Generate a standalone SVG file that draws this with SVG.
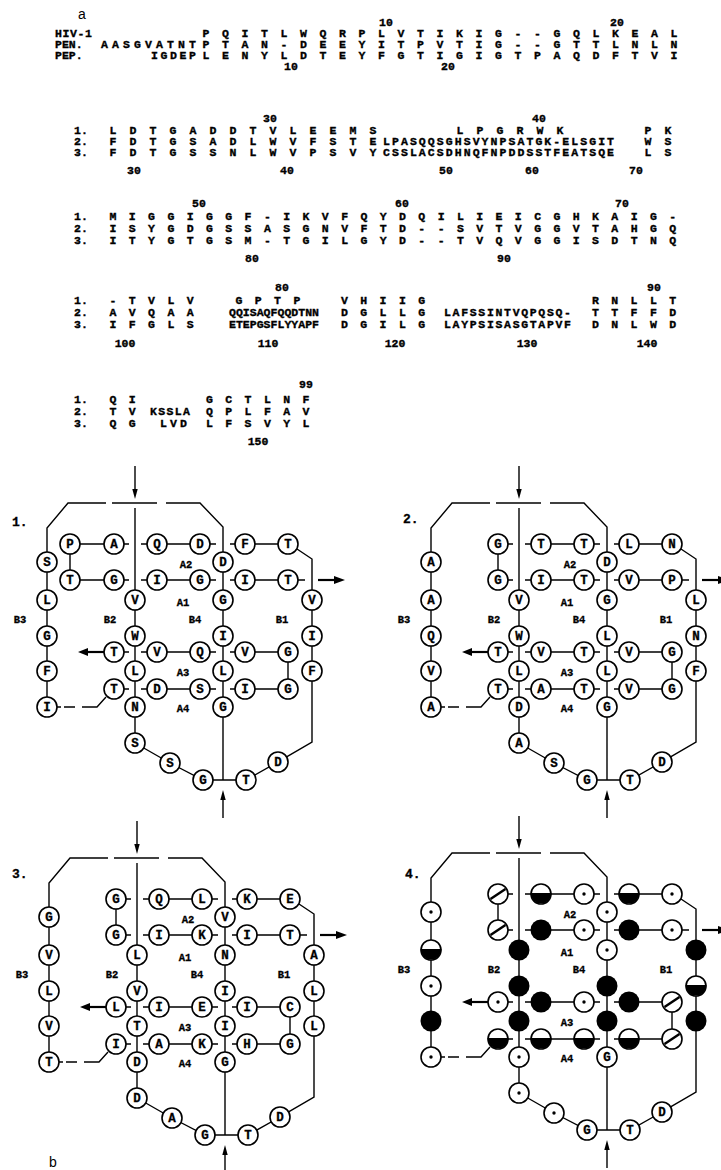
<svg xmlns="http://www.w3.org/2000/svg" xmlns:xlink="http://www.w3.org/1999/xlink" width="721" height="1170" viewBox="0 0 721 1170">
<style>
.t{font-family:"Liberation Mono","DejaVu Sans Mono",monospace;font-weight:bold;font-size:11.5px;fill:#000;stroke:#000;stroke-width:0.35}
.sp{letter-spacing:2.85px}
.sq{letter-spacing:2.75px}
.sw{letter-spacing:3.1px}
.n{text-anchor:middle}
.ln{fill:none;stroke:#000;stroke-width:1.4}
.ar{fill:none;stroke:#000;stroke-width:2.2}
.ah{fill:#000;stroke:none}
.nd circle{fill:#fff;stroke:#000;stroke-width:1.6}
.nd text{font-family:"Liberation Mono",monospace;font-weight:bold;font-size:12.5px;text-anchor:middle;fill:#000;stroke:#000;stroke-width:0.3}
.lb{font-family:"Liberation Mono",monospace;font-weight:bold;font-size:10.5px;text-anchor:middle;fill:#000;stroke:#000;stroke-width:0.3}
.pl{font-family:"Liberation Mono",monospace;font-weight:bold;font-size:13px;fill:#000;stroke:#000;stroke-width:0.3}
.ab{font-family:"Liberation Sans",Arial,sans-serif;font-size:14px;fill:#000}
</style>
<defs>
<g id="sk">
<polyline class="ln" points="47,552 47,528 68,503 106,503"/>
<line class="ln" x1="112" y1="503" x2="157" y2="503"/>
<polyline class="ln" points="166,503 200,503 223,527 223,552"/>
<line class="ln" x1="135" y1="466" x2="135" y2="492"/>
<polygon class="ah" points="132.3,489 137.7,489 135,499"/>
<line class="ln" x1="135" y1="508" x2="135" y2="590"/>
<path class="ln" d="M124,544h5M141,544h6M167,544H190M210,544h6M230,544h5M255,544H278M124,580h5M141,580h6M167,580H190M210,580h6M230,580h5M255,580H278M298,580h7M124,652h5M141,652h6M167,652H190M210,652h6M230,652h5M255,652H278M124,689h5M141,689h6M167,689H190M210,689h6M230,689h5M255,689H278"/>
<path class="ln" d="M135,610V626M135,646V661M135,681V697M135,717V733M223,572V590M223,610V626M223,646V661M223,681V697M223,717V780M312,610V626M312,646V661M47,572V590M47,610V626M47,646V661M47,681V697M288,662V679M297,549L312,559V590M312,681V742L286.6,756.9M135,743L170,763L203,780H246L278,762M106,697L97,707H82M75,707H64M61,707H57"/>
<line class="ar" x1="318" y1="580" x2="336" y2="580"/>
<polygon class="ah" points="334,576 345,580 334,584"/>
<line class="ar" x1="104" y1="652" x2="87" y2="652"/>
<polygon class="ah" points="88,648 78,652 88,656"/>
<line class="ln" x1="223" y1="818" x2="223" y2="797"/>
<polygon class="ah" points="220.3,800 225.7,800 223,790"/>
</g>
<g id="dot"><circle r="10" fill="#fff" stroke="#000" stroke-width="1.6"/><circle r="1.7" fill="#000"/></g>
<g id="blk"><circle r="10.5" fill="#000"/></g>
<g id="half"><circle r="10" fill="#fff" stroke="#000" stroke-width="1.6"/><path d="M-10.5,-1 A10.5,10.5 0 0 0 10.5,-1 Z" fill="#000"/></g>
<g id="sl"><circle r="10" fill="#fff" stroke="#000" stroke-width="1.6"/><line x1="-7.5" y1="5" x2="7.5" y2="-5" stroke="#000" stroke-width="2.4"/></g>
</defs>
<rect width="721" height="1170" fill="#fff"/>

<g id="alignment">
<text class="ab" x="78" y="19">a</text>
<text class="t n" x="386" y="26">10</text><text class="t n" x="617" y="26">20</text>
<text class="t" x="55" y="37" textLength="37">HIV-1</text>
<text class="t sp" x="202.5" y="37">P Q I T L W Q R P L V T I K I G - - G Q L K E A L</text>
<text class="t" x="55" y="48">PEN.</text>
<text class="t" x="101" y="48" textLength="95" lengthAdjust="spacing">AASGVATNT</text>
<text class="t sp" x="202.5" y="48">P T A N - D E E Y I T P V T I G - - G T T L N L N</text>
<text class="t" x="55" y="59">PEP.</text>
<text class="t" x="151" y="59" textLength="45" lengthAdjust="spacing">IGDEP</text>
<text class="t sp" x="202.5" y="59">L E N Y L D T E Y F G T I G I G T P A Q D F T V I</text>
<text class="t n" x="291" y="70">10</text><text class="t n" x="448" y="70">20</text>

<text class="t n" x="270" y="122">30</text><text class="t n" x="539" y="122">40</text>
<text class="t" x="74" y="134">1.</text><text class="t sw" x="109.5" y="134">L D T G A D D T V L E E M S</text><text class="t sw" x="456.5" y="134">L P G R W K</text><text class="t sw" x="644.5" y="134">P K</text>
<text class="t" x="74" y="145">2.</text><text class="t sw" x="109.5" y="145">F D T G S A D L W V F S T E</text><text class="t" x="383" y="145" textLength="231" lengthAdjust="spacing">LPASQQSGHSVYNPSATGK-ELSGIT</text><text class="t sw" x="644.5" y="145">W S</text>
<text class="t" x="74" y="156">3.</text><text class="t sw" x="109.5" y="156">F D T G S S N L W V P S V Y</text><text class="t" x="383" y="156" textLength="231" lengthAdjust="spacing">CSSLACSDHNQFNPDDSSTFEATSQE</text><text class="t sw" x="644.5" y="156">L S</text>
<text class="t n" x="134" y="174">30</text><text class="t n" x="287" y="174">40</text><text class="t n" x="446" y="174">50</text><text class="t n" x="532" y="174">60</text><text class="t n" x="636" y="174">70</text>

<text class="t n" x="199" y="207">50</text><text class="t n" x="402" y="207">60</text><text class="t n" x="622" y="207">70</text>
<text class="t" x="74" y="220">1.</text><text class="t sq" x="109.5" y="220">M I G G I G G F - I K V F Q Y D Q I L I E I C G H K A I G -</text>
<text class="t" x="74" y="232">2.</text><text class="t sq" x="109.5" y="232">I S Y G D G S S A S G N V F T D - - S V T V G G V T A H G Q</text>
<text class="t" x="74" y="244">3.</text><text class="t sq" x="109.5" y="244">I T Y G T G S M - T G I L G Y D - - T V Q V G G I S D T N Q</text>
<text class="t n" x="252" y="262">80</text><text class="t n" x="504" y="262">90</text>

<text class="t n" x="282" y="291">80</text><text class="t n" x="654" y="291">90</text>
<text class="t" x="74" y="304">1.</text><text class="t sq" x="109.5" y="304">- T V L V</text><text class="t sq" x="235.5" y="304">G P T P</text><text class="t sq" x="341" y="304">V H I I G</text><text class="t sq" x="592" y="304">R N L L T</text>
<text class="t" x="74" y="316">2.</text><text class="t sq" x="109.5" y="316">A V Q A A</text><text class="t" x="229" y="316" textLength="90" lengthAdjust="spacing">QQISAQFQQDTNN</text><text class="t sq" x="341" y="316">D G L L G</text><text class="t" x="444" y="316" textLength="127" lengthAdjust="spacing">LAFSSINTVQPQSQ-</text><text class="t sq" x="592" y="316">T T F F D</text>
<text class="t" x="74" y="328">3.</text><text class="t sq" x="109.5" y="328">I F G L S</text><text class="t" x="229" y="328" textLength="90" lengthAdjust="spacing">ETEPGSFLYYAPF</text><text class="t sq" x="341" y="328">D G I L G</text><text class="t" x="444" y="328" textLength="127" lengthAdjust="spacing">LAYPSISASGTAPVF</text><text class="t sq" x="592" y="328">D N L W D</text>
<text class="t n" x="125" y="347">100</text><text class="t n" x="268" y="347">110</text><text class="t n" x="395" y="347">120</text><text class="t n" x="527" y="347">130</text><text class="t n" x="647" y="347">140</text>

<text class="t n" x="306" y="388">99</text>
<text class="t" x="74" y="403">1.</text><text class="t sq" x="109.5" y="403">Q I</text><text class="t sq" x="206" y="403">G C T L N F</text>
<text class="t" x="74" y="415">2.</text><text class="t sq" x="109.5" y="415">T V</text><text class="t" x="150" y="415" textLength="40" lengthAdjust="spacing">KSSLA</text><text class="t sq" x="206" y="415">Q P L F A V</text>
<text class="t" x="74" y="427">3.</text><text class="t sq" x="109.5" y="427">Q G</text><text class="t" x="160" y="427" textLength="27" lengthAdjust="spacing">LVD</text><text class="t sq" x="206" y="427">L F S V Y L</text>
<text class="t n" x="258" y="445">150</text>
</g>

<g id="panel1">
<text class="pl" x="12" y="526">1.</text>
<g id="p1-connectors"><use href="#sk"/><path class="ln" d="M80,544H104M80,580H104M70,554V570"/></g>
<g id="p1-nodes" class="nd">
<g id="p1-n01"><circle cx="47" cy="562" r="10"/><text x="47" y="566.3">S</text></g>
<g id="p1-n02"><circle cx="47" cy="600" r="10"/><text x="47" y="604.3">L</text></g>
<g id="p1-n03"><circle cx="47" cy="636" r="10"/><text x="47" y="640.3">G</text></g>
<g id="p1-n04"><circle cx="47" cy="671" r="10"/><text x="47" y="675.3">F</text></g>
<g id="p1-n05"><circle cx="47" cy="707" r="10"/><text x="47" y="711.3">I</text></g>
<g id="p1-n06"><circle cx="70" cy="544" r="10"/><text x="70" y="548.3">P</text></g>
<g id="p1-n07"><circle cx="114" cy="544" r="10"/><text x="114" y="548.3">A</text></g>
<g id="p1-n08"><circle cx="157" cy="544" r="10"/><text x="157" y="548.3">Q</text></g>
<g id="p1-n09"><circle cx="200" cy="544" r="10"/><text x="200" y="548.3">D</text></g>
<g id="p1-n10"><circle cx="245" cy="544" r="10"/><text x="245" y="548.3">F</text></g>
<g id="p1-n11"><circle cx="288" cy="544" r="10"/><text x="288" y="548.3">T</text></g>
<g id="p1-n12"><circle cx="70" cy="580" r="10"/><text x="70" y="584.3">T</text></g>
<g id="p1-n13"><circle cx="114" cy="580" r="10"/><text x="114" y="584.3">G</text></g>
<g id="p1-n14"><circle cx="157" cy="580" r="10"/><text x="157" y="584.3">I</text></g>
<g id="p1-n15"><circle cx="200" cy="580" r="10"/><text x="200" y="584.3">G</text></g>
<g id="p1-n16"><circle cx="245" cy="580" r="10"/><text x="245" y="584.3">I</text></g>
<g id="p1-n17"><circle cx="288" cy="580" r="10"/><text x="288" y="584.3">T</text></g>
<g id="p1-n18"><circle cx="135" cy="600" r="10"/><text x="135" y="604.3">V</text></g>
<g id="p1-n19"><circle cx="135" cy="636" r="10"/><text x="135" y="640.3">W</text></g>
<g id="p1-n20"><circle cx="135" cy="671" r="10"/><text x="135" y="675.3">L</text></g>
<g id="p1-n21"><circle cx="135" cy="707" r="10"/><text x="135" y="711.3">N</text></g>
<g id="p1-n22"><circle cx="223" cy="562" r="10"/><text x="223" y="566.3">D</text></g>
<g id="p1-n23"><circle cx="223" cy="600" r="10"/><text x="223" y="604.3">G</text></g>
<g id="p1-n24"><circle cx="223" cy="636" r="10"/><text x="223" y="640.3">I</text></g>
<g id="p1-n25"><circle cx="223" cy="671" r="10"/><text x="223" y="675.3">L</text></g>
<g id="p1-n26"><circle cx="223" cy="707" r="10"/><text x="223" y="711.3">G</text></g>
<g id="p1-n27"><circle cx="312" cy="600" r="10"/><text x="312" y="604.3">V</text></g>
<g id="p1-n28"><circle cx="312" cy="636" r="10"/><text x="312" y="640.3">I</text></g>
<g id="p1-n29"><circle cx="312" cy="671" r="10"/><text x="312" y="675.3">F</text></g>
<g id="p1-n30"><circle cx="114" cy="652" r="10"/><text x="114" y="656.3">T</text></g>
<g id="p1-n31"><circle cx="157" cy="652" r="10"/><text x="157" y="656.3">V</text></g>
<g id="p1-n32"><circle cx="200" cy="652" r="10"/><text x="200" y="656.3">Q</text></g>
<g id="p1-n33"><circle cx="245" cy="652" r="10"/><text x="245" y="656.3">V</text></g>
<g id="p1-n34"><circle cx="288" cy="652" r="10"/><text x="288" y="656.3">G</text></g>
<g id="p1-n35"><circle cx="114" cy="689" r="10"/><text x="114" y="693.3">T</text></g>
<g id="p1-n36"><circle cx="157" cy="689" r="10"/><text x="157" y="693.3">D</text></g>
<g id="p1-n37"><circle cx="200" cy="689" r="10"/><text x="200" y="693.3">S</text></g>
<g id="p1-n38"><circle cx="245" cy="689" r="10"/><text x="245" y="693.3">I</text></g>
<g id="p1-n39"><circle cx="288" cy="689" r="10"/><text x="288" y="693.3">G</text></g>
<g id="p1-n40"><circle cx="135" cy="743" r="10"/><text x="135" y="747.3">S</text></g>
<g id="p1-n41"><circle cx="170" cy="763" r="10"/><text x="170" y="767.3">S</text></g>
<g id="p1-n42"><circle cx="203" cy="780" r="10"/><text x="203" y="784.3">G</text></g>
<g id="p1-n43"><circle cx="246" cy="780" r="10"/><text x="246" y="784.3">T</text></g>
<g id="p1-n44"><circle cx="278" cy="762" r="10"/><text x="278" y="766.3">D</text></g>
</g>
<g id="p1-labels">
<text class="lb" x="186" y="568">A2</text><text class="lb" x="183" y="606">A1</text><text class="lb" x="20" y="623">B3</text><text class="lb" x="110" y="623">B2</text><text class="lb" x="195" y="623">B4</text><text class="lb" x="282" y="623">B1</text><text class="lb" x="183" y="676">A3</text><text class="lb" x="183" y="712">A4</text>
</g>
</g>

<g id="panel2" transform="translate(384,0)">
<text class="pl" x="19" y="523">2.</text>
<g id="p2-connectors"><use href="#sk"/><path class="ln" d="M114,554V570"/></g>
<g id="p2-nodes" class="nd">
<g id="p2-n01"><circle cx="47" cy="562" r="10"/><text x="47" y="566.3">A</text></g>
<g id="p2-n02"><circle cx="47" cy="600" r="10"/><text x="47" y="604.3">A</text></g>
<g id="p2-n03"><circle cx="47" cy="636" r="10"/><text x="47" y="640.3">Q</text></g>
<g id="p2-n04"><circle cx="47" cy="671" r="10"/><text x="47" y="675.3">V</text></g>
<g id="p2-n05"><circle cx="47" cy="707" r="10"/><text x="47" y="711.3">A</text></g>
<g id="p2-n07"><circle cx="114" cy="544" r="10"/><text x="114" y="548.3">G</text></g>
<g id="p2-n08"><circle cx="157" cy="544" r="10"/><text x="157" y="548.3">T</text></g>
<g id="p2-n09"><circle cx="200" cy="544" r="10"/><text x="200" y="548.3">T</text></g>
<g id="p2-n10"><circle cx="245" cy="544" r="10"/><text x="245" y="548.3">L</text></g>
<g id="p2-n11"><circle cx="288" cy="544" r="10"/><text x="288" y="548.3">N</text></g>
<g id="p2-n13"><circle cx="114" cy="580" r="10"/><text x="114" y="584.3">G</text></g>
<g id="p2-n14"><circle cx="157" cy="580" r="10"/><text x="157" y="584.3">I</text></g>
<g id="p2-n15"><circle cx="200" cy="580" r="10"/><text x="200" y="584.3">T</text></g>
<g id="p2-n16"><circle cx="245" cy="580" r="10"/><text x="245" y="584.3">V</text></g>
<g id="p2-n17"><circle cx="288" cy="580" r="10"/><text x="288" y="584.3">P</text></g>
<g id="p2-n18"><circle cx="135" cy="600" r="10"/><text x="135" y="604.3">V</text></g>
<g id="p2-n19"><circle cx="135" cy="636" r="10"/><text x="135" y="640.3">W</text></g>
<g id="p2-n20"><circle cx="135" cy="671" r="10"/><text x="135" y="675.3">L</text></g>
<g id="p2-n21"><circle cx="135" cy="707" r="10"/><text x="135" y="711.3">D</text></g>
<g id="p2-n22"><circle cx="223" cy="562" r="10"/><text x="223" y="566.3">D</text></g>
<g id="p2-n23"><circle cx="223" cy="600" r="10"/><text x="223" y="604.3">G</text></g>
<g id="p2-n24"><circle cx="223" cy="636" r="10"/><text x="223" y="640.3">L</text></g>
<g id="p2-n25"><circle cx="223" cy="671" r="10"/><text x="223" y="675.3">L</text></g>
<g id="p2-n26"><circle cx="223" cy="707" r="10"/><text x="223" y="711.3">G</text></g>
<g id="p2-n27"><circle cx="312" cy="600" r="10"/><text x="312" y="604.3">L</text></g>
<g id="p2-n28"><circle cx="312" cy="636" r="10"/><text x="312" y="640.3">N</text></g>
<g id="p2-n29"><circle cx="312" cy="671" r="10"/><text x="312" y="675.3">F</text></g>
<g id="p2-n30"><circle cx="114" cy="652" r="10"/><text x="114" y="656.3">T</text></g>
<g id="p2-n31"><circle cx="157" cy="652" r="10"/><text x="157" y="656.3">V</text></g>
<g id="p2-n32"><circle cx="200" cy="652" r="10"/><text x="200" y="656.3">T</text></g>
<g id="p2-n33"><circle cx="245" cy="652" r="10"/><text x="245" y="656.3">V</text></g>
<g id="p2-n34"><circle cx="288" cy="652" r="10"/><text x="288" y="656.3">G</text></g>
<g id="p2-n35"><circle cx="114" cy="689" r="10"/><text x="114" y="693.3">T</text></g>
<g id="p2-n36"><circle cx="157" cy="689" r="10"/><text x="157" y="693.3">A</text></g>
<g id="p2-n37"><circle cx="200" cy="689" r="10"/><text x="200" y="693.3">T</text></g>
<g id="p2-n38"><circle cx="245" cy="689" r="10"/><text x="245" y="693.3">V</text></g>
<g id="p2-n39"><circle cx="288" cy="689" r="10"/><text x="288" y="693.3">G</text></g>
<g id="p2-n40"><circle cx="135" cy="743" r="10"/><text x="135" y="747.3">A</text></g>
<g id="p2-n41"><circle cx="170" cy="763" r="10"/><text x="170" y="767.3">S</text></g>
<g id="p2-n42"><circle cx="203" cy="780" r="10"/><text x="203" y="784.3">G</text></g>
<g id="p2-n43"><circle cx="246" cy="780" r="10"/><text x="246" y="784.3">T</text></g>
<g id="p2-n44"><circle cx="278" cy="762" r="10"/><text x="278" y="766.3">D</text></g>
</g>
<g id="p2-labels">
<text class="lb" x="186" y="568">A2</text><text class="lb" x="183" y="606">A1</text><text class="lb" x="20" y="623">B3</text><text class="lb" x="110" y="623">B2</text><text class="lb" x="195" y="623">B4</text><text class="lb" x="282" y="623">B1</text><text class="lb" x="183" y="676">A3</text><text class="lb" x="183" y="712">A4</text>
</g>
</g>

<g id="panel3" transform="translate(2,355)">
<text class="pl" x="10" y="523">3.</text>
<g id="p3-connectors"><use href="#sk"/><path class="ln" d="M114,554V570"/></g>
<g id="p3-nodes" class="nd">
<g id="p3-n01"><circle cx="47" cy="562" r="10"/><text x="47" y="566.3">G</text></g>
<g id="p3-n02"><circle cx="47" cy="600" r="10"/><text x="47" y="604.3">V</text></g>
<g id="p3-n03"><circle cx="47" cy="636" r="10"/><text x="47" y="640.3">L</text></g>
<g id="p3-n04"><circle cx="47" cy="671" r="10"/><text x="47" y="675.3">V</text></g>
<g id="p3-n05"><circle cx="47" cy="707" r="10"/><text x="47" y="711.3">T</text></g>
<g id="p3-n07"><circle cx="114" cy="544" r="10"/><text x="114" y="548.3">G</text></g>
<g id="p3-n08"><circle cx="157" cy="544" r="10"/><text x="157" y="548.3">Q</text></g>
<g id="p3-n09"><circle cx="200" cy="544" r="10"/><text x="200" y="548.3">L</text></g>
<g id="p3-n10"><circle cx="245" cy="544" r="10"/><text x="245" y="548.3">K</text></g>
<g id="p3-n11"><circle cx="288" cy="544" r="10"/><text x="288" y="548.3">E</text></g>
<g id="p3-n13"><circle cx="114" cy="580" r="10"/><text x="114" y="584.3">G</text></g>
<g id="p3-n14"><circle cx="157" cy="580" r="10"/><text x="157" y="584.3">I</text></g>
<g id="p3-n15"><circle cx="200" cy="580" r="10"/><text x="200" y="584.3">K</text></g>
<g id="p3-n16"><circle cx="245" cy="580" r="10"/><text x="245" y="584.3">I</text></g>
<g id="p3-n17"><circle cx="288" cy="580" r="10"/><text x="288" y="584.3">T</text></g>
<g id="p3-n18"><circle cx="135" cy="600" r="10"/><text x="135" y="604.3">L</text></g>
<g id="p3-n19"><circle cx="135" cy="636" r="10"/><text x="135" y="640.3">V</text></g>
<g id="p3-n20"><circle cx="135" cy="671" r="10"/><text x="135" y="675.3">T</text></g>
<g id="p3-n21"><circle cx="135" cy="707" r="10"/><text x="135" y="711.3">D</text></g>
<g id="p3-n22"><circle cx="223" cy="562" r="10"/><text x="223" y="566.3">V</text></g>
<g id="p3-n23"><circle cx="223" cy="600" r="10"/><text x="223" y="604.3">N</text></g>
<g id="p3-n24"><circle cx="223" cy="636" r="10"/><text x="223" y="640.3">I</text></g>
<g id="p3-n25"><circle cx="223" cy="671" r="10"/><text x="223" y="675.3">I</text></g>
<g id="p3-n26"><circle cx="223" cy="707" r="10"/><text x="223" y="711.3">G</text></g>
<g id="p3-n27"><circle cx="312" cy="600" r="10"/><text x="312" y="604.3">A</text></g>
<g id="p3-n28"><circle cx="312" cy="636" r="10"/><text x="312" y="640.3">L</text></g>
<g id="p3-n29"><circle cx="312" cy="671" r="10"/><text x="312" y="675.3">L</text></g>
<g id="p3-n30"><circle cx="114" cy="652" r="10"/><text x="114" y="656.3">L</text></g>
<g id="p3-n31"><circle cx="157" cy="652" r="10"/><text x="157" y="656.3">I</text></g>
<g id="p3-n32"><circle cx="200" cy="652" r="10"/><text x="200" y="656.3">E</text></g>
<g id="p3-n33"><circle cx="245" cy="652" r="10"/><text x="245" y="656.3">I</text></g>
<g id="p3-n34"><circle cx="288" cy="652" r="10"/><text x="288" y="656.3">C</text></g>
<g id="p3-n35"><circle cx="114" cy="689" r="10"/><text x="114" y="693.3">I</text></g>
<g id="p3-n36"><circle cx="157" cy="689" r="10"/><text x="157" y="693.3">A</text></g>
<g id="p3-n37"><circle cx="200" cy="689" r="10"/><text x="200" y="693.3">K</text></g>
<g id="p3-n38"><circle cx="245" cy="689" r="10"/><text x="245" y="693.3">H</text></g>
<g id="p3-n39"><circle cx="288" cy="689" r="10"/><text x="288" y="693.3">G</text></g>
<g id="p3-n40"><circle cx="135" cy="743" r="10"/><text x="135" y="747.3">D</text></g>
<g id="p3-n41"><circle cx="170" cy="763" r="10"/><text x="170" y="767.3">A</text></g>
<g id="p3-n42"><circle cx="203" cy="780" r="10"/><text x="203" y="784.3">G</text></g>
<g id="p3-n43"><circle cx="246" cy="780" r="10"/><text x="246" y="784.3">T</text></g>
<g id="p3-n44"><circle cx="278" cy="762" r="10"/><text x="278" y="766.3">D</text></g>
</g>
<g id="p3-labels">
<text class="lb" x="186" y="568">A2</text><text class="lb" x="183" y="606">A1</text><text class="lb" x="20" y="623">B3</text><text class="lb" x="110" y="623">B2</text><text class="lb" x="195" y="623">B4</text><text class="lb" x="282" y="623">B1</text><text class="lb" x="183" y="676">A3</text><text class="lb" x="183" y="712">A4</text>
</g>
</g>

<g id="panel4" transform="translate(384,350)">
<text class="pl" x="21" y="528">4.</text>
<g id="p4-connectors"><use href="#sk"/><path class="ln" d="M114,554V570"/></g>
<g id="p4-nodes" class="nd">
<g id="p4-n01"><use href="#dot" x="47" y="562"/></g>
<g id="p4-n02"><use href="#half" x="47" y="600"/></g>
<g id="p4-n03"><use href="#dot" x="47" y="636"/></g>
<g id="p4-n04"><use href="#blk" x="47" y="671"/></g>
<g id="p4-n05"><use href="#dot" x="47" y="707"/></g>
<g id="p4-n07"><use href="#sl" x="114" y="544"/></g>
<g id="p4-n08"><use href="#half" x="157" y="544"/></g>
<g id="p4-n09"><use href="#dot" x="200" y="544"/></g>
<g id="p4-n10"><use href="#half" x="245" y="544"/></g>
<g id="p4-n11"><use href="#dot" x="288" y="544"/></g>
<g id="p4-n13"><use href="#sl" x="114" y="580"/></g>
<g id="p4-n14"><use href="#blk" x="157" y="580"/></g>
<g id="p4-n15"><use href="#dot" x="200" y="580"/></g>
<g id="p4-n16"><use href="#blk" x="245" y="580"/></g>
<g id="p4-n17"><use href="#dot" x="288" y="580"/></g>
<g id="p4-n18"><use href="#blk" x="135" y="600"/></g>
<g id="p4-n19"><use href="#blk" x="135" y="636"/></g>
<g id="p4-n20"><use href="#blk" x="135" y="671"/></g>
<g id="p4-n21"><use href="#dot" x="135" y="707"/></g>
<g id="p4-n22"><use href="#dot" x="223" y="562"/></g>
<g id="p4-n23"><use href="#dot" x="223" y="600"/></g>
<g id="p4-n24"><use href="#blk" x="223" y="636"/></g>
<g id="p4-n25"><use href="#blk" x="223" y="671"/></g>
<g id="p4-n26"><circle cx="223" cy="707" r="10"/><text x="223" y="711.3">G</text></g>
<g id="p4-n27"><use href="#blk" x="312" y="600"/></g>
<g id="p4-n28"><use href="#half" x="312" y="636"/></g>
<g id="p4-n29"><use href="#blk" x="312" y="671"/></g>
<g id="p4-n30"><use href="#dot" x="114" y="652"/></g>
<g id="p4-n31"><use href="#blk" x="157" y="652"/></g>
<g id="p4-n32"><use href="#dot" x="200" y="652"/></g>
<g id="p4-n33"><use href="#blk" x="245" y="652"/></g>
<g id="p4-n34"><use href="#sl" x="288" y="652"/></g>
<g id="p4-n35"><use href="#half" x="114" y="689"/></g>
<g id="p4-n36"><use href="#half" x="157" y="689"/></g>
<g id="p4-n37"><use href="#half" x="200" y="689"/></g>
<g id="p4-n38"><use href="#half" x="245" y="689"/></g>
<g id="p4-n39"><use href="#sl" x="288" y="689"/></g>
<g id="p4-n40"><use href="#dot" x="135" y="743"/></g>
<g id="p4-n41"><use href="#dot" x="170" y="763"/></g>
<g id="p4-n42"><circle cx="203" cy="780" r="10"/><text x="203" y="784.3">G</text></g>
<g id="p4-n43"><circle cx="246" cy="780" r="10"/><text x="246" y="784.3">T</text></g>
<g id="p4-n44"><circle cx="278" cy="762" r="10"/><text x="278" y="766.3">D</text></g>
</g>
<g id="p4-labels">
<text class="lb" x="186" y="568">A2</text><text class="lb" x="183" y="606">A1</text><text class="lb" x="20" y="623">B3</text><text class="lb" x="110" y="623">B2</text><text class="lb" x="195" y="623">B4</text><text class="lb" x="282" y="623">B1</text><text class="lb" x="183" y="676">A3</text><text class="lb" x="183" y="712">A4</text>
</g>
</g>

<text class="ab" x="49" y="1167">b</text>
</svg>
